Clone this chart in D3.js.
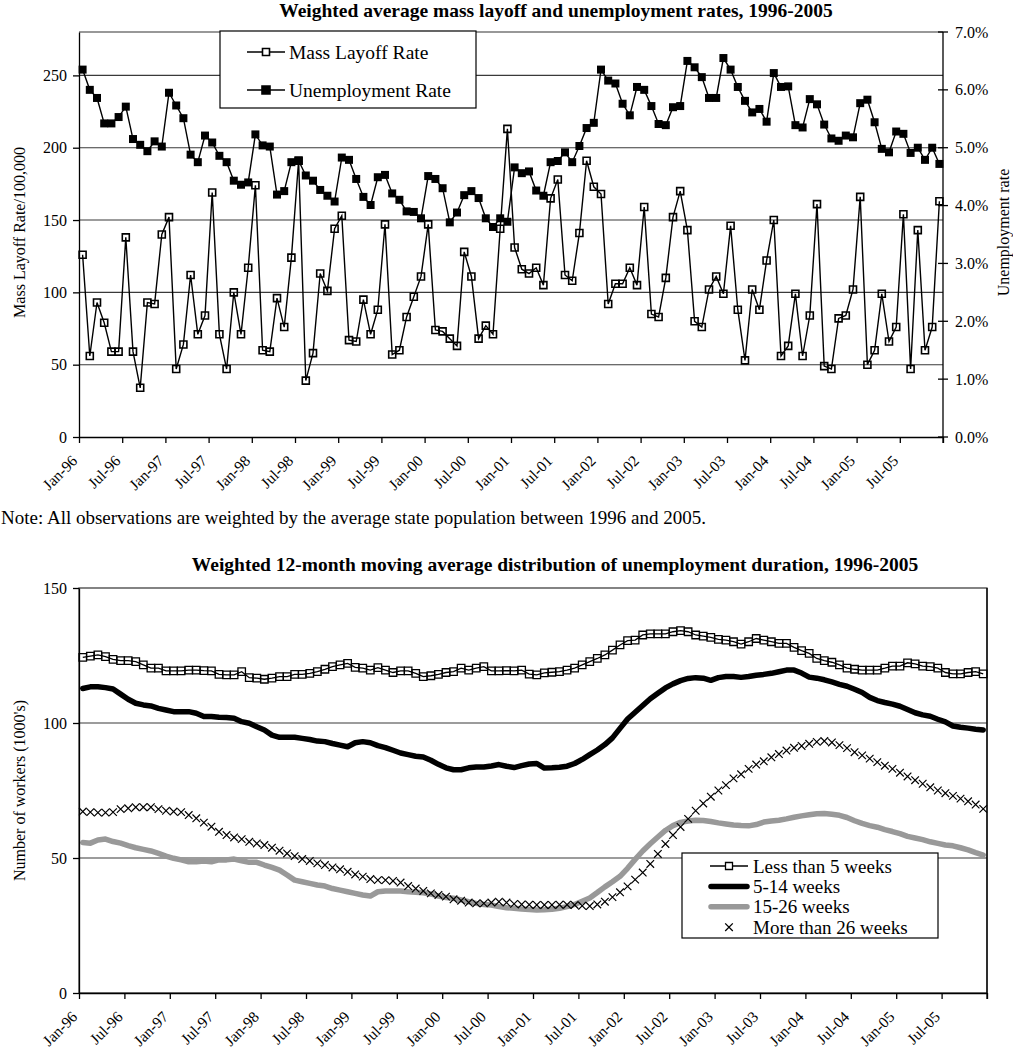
<!DOCTYPE html>
<html><head><meta charset="utf-8">
<script src="https://cdn.jsdelivr.net/npm/d3@7"></script>
<style>
body{margin:0;background:#fff}
text{font-family:"Liberation Serif","Times New Roman",serif;fill:#000}
</style>
</head><body><svg id="c" width="1013" height="1050"></svg>
<script>
// ---------- DATA ----------
const tickLabels = ["Jan-96","Jul-96","Jan-97","Jul-97","Jan-98","Jul-98","Jan-99","Jul-99","Jan-00","Jul-00",
  "Jan-01","Jul-01","Jan-02","Jul-02","Jan-03","Jul-03","Jan-04","Jul-04","Jan-05","Jul-05"];
const leftTicks = [0,50,100,150,200,250];
const rightTicks = [0,1,2,3,4,5,6,7];
const bottomTicks = [0,50,100,150];

// Mass layoff rate per 100,000 (monthly, Jan-96 .. Dec-05)
const massLayoff = [
 126,56,93,79,59,59,138,59,34,93,
 92,140,152,47,64,112,71,84,169,71,
 47,100,71,117,174,60,59,96,76,124,
 191,39,58,113,101,144,153,67,66,95,
 71,88,147,57,60,83,97,111,147,74,
 73,68,63,128,111,68,77,71,144,213,
 131,116,113,117,105,165,178,112,108,141,
 191,173,168,92,106,106,117,105,159,85,
 83,110,152,170,143,80,76,102,111,99,
 146,88,53,102,88,122,150,56,63,99,
 56,84,161,49,47,82,84,102,166,50,
 60,99,66,76,154,47,143,60,76,163];
// Unemployment rate (%)
const unemploymentRate = [
 6.35,6.00,5.86,5.42,5.42,5.53,5.71,5.15,5.05,4.94,
 5.11,5.02,5.95,5.73,5.51,4.88,4.75,5.21,5.09,4.86,
 4.75,4.43,4.36,4.40,5.23,5.04,5.02,4.19,4.25,4.75,
 4.78,4.52,4.43,4.27,4.17,4.07,4.83,4.79,4.46,4.15,
 4.01,4.49,4.53,4.21,4.10,3.90,3.89,3.78,4.51,4.46,
 4.30,3.71,3.88,4.18,4.25,4.13,3.78,3.63,3.78,3.72,
 4.66,4.56,4.59,4.26,4.17,4.75,4.77,4.92,4.75,5.03,
 5.34,5.43,6.35,6.16,6.11,5.76,5.56,6.05,6.00,5.72,
 5.41,5.39,5.70,5.72,6.50,6.39,6.22,5.86,5.86,6.55,
 6.35,6.05,5.81,5.61,5.67,5.45,6.29,6.05,6.06,5.39,
 5.35,5.84,5.75,5.40,5.16,5.12,5.21,5.18,5.77,5.83,
 5.44,4.98,4.92,5.28,5.24,4.91,5.00,4.79,5.00,4.72];

// Unemployment duration, 12-month moving averages (1000's)
const lessThan5 = [
 124.3,124.8,125.2,124.6,123.6,123.1,123.1,122.7,121.5,120.3,
 120.3,119.3,119.3,119.3,119.6,119.6,119.4,119.3,118.0,117.8,
 117.8,119.0,116.8,116.6,116.2,116.6,117.2,117.2,118.0,118.0,
 118.4,119.0,119.9,120.9,121.5,122.1,120.6,120.3,119.6,120.5,
 119.6,118.7,119.3,119.3,118.4,117.2,117.5,118.0,118.7,119.0,
 120.3,119.6,120.3,120.9,119.3,119.3,119.4,119.3,119.6,118.1,
 117.8,118.6,118.8,119.0,119.6,120.3,121.5,122.7,123.9,125.2,
 127.0,128.9,130.5,130.7,132.6,133.0,133.0,133.0,133.8,134.2,
 133.8,132.6,132.2,131.7,131.0,130.7,130.1,129.2,130.1,131.3,
 130.7,130.1,129.5,129.5,128.0,126.8,125.8,123.9,123.1,122.5,
 121.5,120.3,119.9,119.6,119.6,119.6,120.3,121.1,121.1,122.3,
 121.9,121.1,120.9,120.3,118.7,118.2,118.2,118.7,119.0,118.2];
const weeks5to14 = [
 112.8,113.4,113.4,113.1,112.6,110.7,108.8,107.3,106.7,106.3,
 105.4,104.8,104.2,104.2,104.2,103.6,102.4,102.4,102.1,102.0,
 101.8,100.5,99.9,98.6,97.4,95.5,94.7,94.7,94.7,94.3,
 93.9,93.3,93.1,92.4,91.8,91.2,92.7,93.1,92.7,91.6,
 90.9,89.9,88.9,88.3,87.7,87.4,86.2,84.7,83.4,82.7,
 82.7,83.4,83.7,83.7,84.1,84.6,84.0,83.5,84.2,84.8,
 85.0,83.3,83.4,83.6,84.0,85.0,86.5,88.3,90.0,92.0,
 94.5,98.0,101.5,104.0,106.5,109.0,111.0,113.0,114.5,115.7,
 116.5,116.8,116.6,115.8,116.8,117.2,117.2,116.9,117.2,117.7,
 118.0,118.4,119.0,119.6,119.6,118.5,117.0,116.6,116.0,115.2,
 114.3,113.6,112.5,111.3,109.5,108.3,107.6,107.0,106.2,105.0,
 103.8,103.0,102.5,101.4,100.4,98.9,98.4,98.1,97.7,97.4];
const weeks15to26 = [
 55.7,55.5,56.7,57.0,56.1,55.5,54.6,53.8,53.2,52.6,
 51.7,50.7,49.9,49.3,48.6,48.6,48.9,48.6,49.3,49.3,
 49.6,49.0,48.4,48.4,47.4,46.5,45.5,43.7,41.8,41.2,
 40.6,40.0,39.6,38.7,38.1,37.5,36.9,36.3,35.9,37.5,
 37.8,37.8,37.8,37.5,37.3,37.1,36.7,35.9,35.4,35.1,
 34.5,33.8,33.2,32.8,32.6,32.0,31.6,31.4,31.1,30.9,
 30.7,30.8,31.0,31.4,32.0,32.8,34.0,35.2,37.2,39.3,
 41.2,43.2,46.2,49.5,52.6,55.3,57.8,60.2,62.0,63.2,
 63.7,64.0,63.9,63.5,63.0,62.6,62.2,62.0,61.9,62.4,
 63.3,63.7,64.0,64.5,65.1,65.6,66.0,66.4,66.5,66.2,
 65.8,65.0,63.8,62.8,62.0,61.4,60.5,59.8,59.0,58.0,
 57.4,56.8,56.0,55.4,54.8,54.5,53.8,53.0,52.0,51.1];
const moreThan26 = [
 67.2,67.0,66.8,66.8,67.0,68.1,68.4,68.8,68.8,68.8,
 68.1,67.5,67.2,67.0,65.9,64.7,63.1,61.6,59.7,58.5,
 57.6,57.0,56.0,55.4,54.8,53.8,52.7,51.7,50.7,49.6,
 48.9,48.0,47.4,46.5,45.8,44.9,43.9,43.1,42.2,41.8,
 41.8,41.5,40.9,39.6,38.7,37.8,36.9,36.3,35.7,34.7,
 34.2,33.5,33.2,33.2,33.5,33.8,33.5,33.0,32.8,32.7,
 32.6,32.6,32.6,32.7,32.7,32.6,32.3,32.2,32.8,33.8,
 35.5,37.3,39.5,42.0,44.6,47.8,51.5,55.2,58.5,61.5,
 64.5,67.5,70.2,72.7,75.0,77.0,79.5,81.0,83.0,84.6,
 85.8,87.3,88.5,89.8,90.8,91.5,92.3,93.0,93.3,92.8,
 91.8,90.7,89.2,88.0,86.8,85.5,84.2,83.0,81.6,80.2,
 78.8,77.5,76.2,75.0,74.0,73.0,72.0,71.0,69.8,68.2];

const months = d3.range(massLayoff.length);

// ---------- DRAW ----------
const FONT = '"Liberation Serif","Times New Roman",serif';
const svg = d3.select("#c");
svg.append("rect").attr("width",1013).attr("height",1050).attr("fill","#fff");
const GRID = "#3a3a3a";

function xAxis(g, xs, B) {
  const xl = d3.scaleLinear().domain([0, months.length]).range([B.l, B.r]);
  const ax = d3.axisBottom(xl).tickValues(d3.range(0, months.length + 1, 6))
    .tickSize(6).tickSizeOuter(0).tickFormat((d, i) => tickLabels[i] || "");
  const a = g.append("g").attr("transform", `translate(0,${B.b})`).call(ax);
  a.select(".domain").attr("stroke", "#000").attr("stroke-width", 1.3);
  a.selectAll(".tick line").attr("stroke", "#000").attr("stroke-width", 1.3);
  a.selectAll(".tick text")
    .attr("x", null).attr("y", null).attr("dy", "0.35em")
    .attr("text-anchor", "end")
    .attr("transform", "translate(-5,21) rotate(-45)")
    .style("font-size", "15.5px").style("font-family", FONT);
}
function leftAxis(g, y, ticks, B) {
  const ax = d3.axisLeft(y).tickValues(ticks).tickSize(6).tickSizeOuter(0).tickPadding(6);
  const a = g.append("g").attr("transform", `translate(${B.l},0)`).call(ax);
  a.select(".domain").attr("stroke", "#000").attr("stroke-width", 1.3);
  a.selectAll(".tick line").attr("stroke", "#000").attr("stroke-width", 1.3);
  a.selectAll(".tick text").style("font-size", "16px").style("font-family", FONT);
}
function squarePath(s) { return `M${-s/2},${-s/2}h${s}v${s}h${-s}Z`; }

// ===== TOP CHART =====
const T = {l:79, r:943, t:32, b:437};
const xT = d3.scaleBand().domain(months).range([T.l, T.r]);
const cx = i => xT(i) + xT.bandwidth() / 2;
const yL = d3.scaleLinear().domain([0, 280]).range([T.b, T.t]);
const yR = d3.scaleLinear().domain([0, 7]).range([T.b, T.t]);
const gT = svg.append("g");

gT.append("text").attr("x", 556).attr("y", 16.5).attr("text-anchor", "middle")
  .style("font-size", "19.5px").style("font-weight", "bold")
  .text("Weighted average mass layoff and unemployment rates, 1996-2005");

gT.selectAll("line.grid").data(leftTicks.filter(d => d > 0)).join("line")
  .attr("x1", T.l).attr("x2", T.r).attr("y1", d => yL(d)).attr("y2", d => yL(d))
  .attr("stroke", GRID).attr("stroke-width", 1.1);
gT.append("line").attr("x1", T.l).attr("x2", T.r).attr("y1", T.t).attr("y2", T.t)
  .attr("stroke", "#333").attr("stroke-width", 1.2);

// series
const lineML = d3.line().x((d, i) => cx(i)).y(d => yL(d));
gT.append("path").datum(massLayoff).attr("d", lineML).attr("fill", "none")
  .attr("stroke", "#000").attr("stroke-width", 1.4);
gT.selectAll("path.ml").data(massLayoff).join("path").attr("class", "ml")
  .attr("transform", (d, i) => `translate(${cx(i)},${yL(d)})`)
  .attr("d", squarePath(7)).attr("fill", "none").attr("stroke", "#000").attr("stroke-width", 1.6);
const lineUR = d3.line().x((d, i) => cx(i)).y(d => yR(d));
gT.append("path").datum(unemploymentRate).attr("d", lineUR).attr("fill", "none")
  .attr("stroke", "#000").attr("stroke-width", 1.4);
gT.selectAll("path.ur").data(unemploymentRate).join("path").attr("class", "ur")
  .attr("transform", (d, i) => `translate(${cx(i)},${yR(d)})`)
  .attr("d", squarePath(8)).attr("fill", "#000");

// axes
leftAxis(gT, yL, leftTicks, T);
xAxis(gT, xT, T);
gT.append("line").attr("x1", T.r).attr("x2", T.r).attr("y1", T.t).attr("y2", T.b + 6)
  .attr("stroke", "#000").attr("stroke-width", 1.3);
const rt = gT.selectAll("g.rt").data(rightTicks).join("g").attr("class", "rt")
  .attr("transform", d => `translate(${T.r},${yR(d)})`);
rt.append("line").attr("x1", -5).attr("x2", 5).attr("stroke", "#000").attr("stroke-width", 1.3);
rt.append("text").attr("x", 12).attr("dy", "0.35em").style("font-size", "16px")
  .text(d => d3.format(".1f")(d) + "%");

gT.append("text").attr("transform", `translate(25,${(T.t + T.b) / 2 - 2}) rotate(-90)`)
  .attr("text-anchor", "middle").style("font-size", "16px").text("Mass Layoff Rate/100,000");
gT.append("text").attr("transform", `translate(1009,${(T.t + T.b) / 2 - 2}) rotate(-90)`)
  .attr("text-anchor", "middle").style("font-size", "16px").text("Unemployment rate");

// legend
const lgT = gT.append("g");
lgT.append("rect").attr("x", 220).attr("y", 31).attr("width", 256).attr("height", 77)
  .attr("fill", "#fff").attr("stroke", "#000").attr("stroke-width", 1.2);
const lgTitems = [{name: "Mass Layoff Rate", fill: "none", y: 52}, {name: "Unemployment Rate", fill: "#000", y: 90}];
lgTitems.forEach(it => {
  lgT.append("line").attr("x1", 247).attr("x2", 285).attr("y1", it.y).attr("y2", it.y)
    .attr("stroke", "#000").attr("stroke-width", 1.4);
  lgT.append("path").attr("transform", `translate(266,${it.y})`).attr("d", squarePath(it.fill === "none" ? 7 : 8))
    .attr("fill", it.fill === "none" ? "#fff" : "#000").attr("stroke", "#000").attr("stroke-width", 1.6);
  lgT.append("text").attr("x", 289).attr("y", it.y).attr("dy", "0.35em")
    .style("font-size", "19.5px").text(it.name);
});

// note
svg.append("text").attr("x", 1).attr("y", 524).style("font-size", "19px")
  .text("Note: All observations are weighted by the average state population between 1996 and 2005.");

// ===== BOTTOM CHART =====
const Bm = {l:79, r:987, t:588, b:993};
const xB = d3.scaleBand().domain(months).range([Bm.l, Bm.r]);
const bx = i => xB(i) + xB.bandwidth() / 2;
const yB = d3.scaleLinear().domain([0, 150]).range([Bm.b, Bm.t]);
const gB = svg.append("g");

gB.append("text").attr("x", 555).attr("y", 571).attr("text-anchor", "middle")
  .style("font-size", "19.5px").style("font-weight", "bold")
  .text("Weighted 12-month moving average distribution of unemployment duration, 1996-2005");

gB.selectAll("line.grid").data(bottomTicks.filter(d => d > 0 && d < 150)).join("line")
  .attr("x1", Bm.l).attr("x2", Bm.r).attr("y1", d => yB(d)).attr("y2", d => yB(d))
  .attr("stroke", GRID).attr("stroke-width", 1.1);
gB.append("rect").attr("x", Bm.l).attr("y", Bm.t).attr("width", Bm.r - Bm.l).attr("height", Bm.b - Bm.t)
  .attr("fill", "none").attr("stroke", "#333").attr("stroke-width", 1.2);

const lineB = d3.line().x((d, i) => bx(i)).y(d => yB(d));
// less than 5 weeks
gB.append("path").datum(lessThan5).attr("d", lineB).attr("fill", "none")
  .attr("stroke", "#000").attr("stroke-width", 1.3);
gB.selectAll("path.a").data(lessThan5).join("path").attr("class", "a")
  .attr("transform", (d, i) => `translate(${bx(i)},${yB(d)})`)
  .attr("d", squarePath(7.5)).attr("fill", "none").attr("stroke", "#000").attr("stroke-width", 1.3);
// 5-14 weeks
gB.append("path").datum(weeks5to14).attr("d", lineB).attr("fill", "none")
  .attr("stroke", "#000").attr("stroke-width", 5.5).attr("stroke-linejoin", "round").attr("stroke-linecap", "round");
// 15-26 weeks
gB.append("path").datum(weeks15to26).attr("d", lineB).attr("fill", "none")
  .attr("stroke", "#999").attr("stroke-width", 5.5).attr("stroke-linejoin", "round").attr("stroke-linecap", "round");
// more than 26 weeks
const xMark = s => `M${-s},${-s}L${s},${s}M${-s},${s}L${s},${-s}`;
gB.selectAll("path.d").data(moreThan26).join("path").attr("class", "d")
  .attr("transform", (d, i) => `translate(${bx(i)},${yB(d)})`)
  .attr("d", xMark(3.8)).attr("fill", "none").attr("stroke", "#000").attr("stroke-width", 1.2);

leftAxis(gB, yB, bottomTicks, Bm);
xAxis(gB, xB, Bm);
gB.append("line").attr("x1", Bm.r).attr("x2", Bm.r).attr("y1", Bm.t).attr("y2", Bm.b + 6)
  .attr("stroke", "#000").attr("stroke-width", 1.3);
gB.append("text").attr("transform", `translate(25,${(Bm.t + Bm.b) / 2}) rotate(-90)`)
  .attr("text-anchor", "middle").style("font-size", "16px").text("Number of workers (1000's)");

// legend
const lgB = gB.append("g");
lgB.append("rect").attr("x", 682).attr("y", 853).attr("width", 256).attr("height", 85)
  .attr("fill", "#fff").attr("stroke", "#000").attr("stroke-width", 1.2);
const lgBitems = [
  {name: "Less than 5 weeks", type: "sq"},
  {name: "5-14 weeks", type: "thickBlack"},
  {name: "15-26 weeks", type: "thickGray"},
  {name: "More than 26 weeks", type: "x"}];
lgBitems.forEach((it, k) => {
  const y = 866 + k * 20.4;
  if (it.type === "sq") {
    lgB.append("line").attr("x1", 710).attr("x2", 748).attr("y1", y).attr("y2", y).attr("stroke", "#000").attr("stroke-width", 1.3);
    lgB.append("path").attr("transform", `translate(729,${y})`).attr("d", squarePath(7)).attr("fill", "#fff").attr("stroke", "#000").attr("stroke-width", 1.3);
  } else if (it.type === "x") {
    lgB.append("path").attr("transform", `translate(729,${y})`).attr("d", xMark(3.8)).attr("stroke", "#000").attr("stroke-width", 1.3);
  } else {
    lgB.append("line").attr("x1", 711).attr("x2", 747).attr("y1", y).attr("y2", y)
      .attr("stroke", it.type === "thickBlack" ? "#000" : "#999").attr("stroke-width", 5.5).attr("stroke-linecap", "round");
  }
  lgB.append("text").attr("x", 753).attr("y", y).attr("dy", "0.35em").style("font-size", "19px").text(it.name);
});
</script>
</body></html>
